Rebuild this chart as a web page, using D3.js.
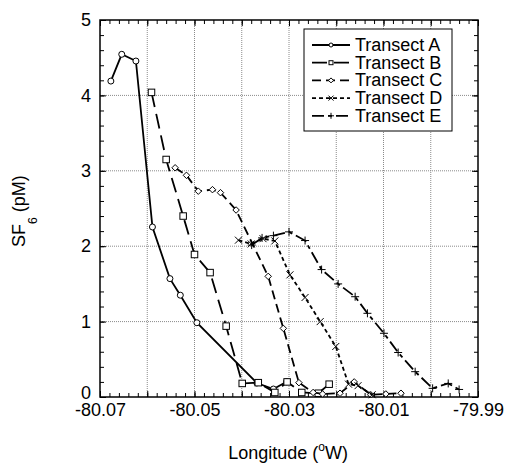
<!DOCTYPE html>
<head>
<meta charset="utf-8">
<title>SF6 transects</title>
<script src="https://d3js.org/d3.v7.min.js"></script>
<style>
  body { margin: 0; background: #fff; }
  text { font-family: "Liberation Sans", Arial, sans-serif; fill: #000; }
</style>
</head>
<body>
<div id="chart"></div>
<script>

  // longitude (deg) and SF6 (pM)
  var lonA = [-80.0677, -80.0654, -80.0624, -80.0589, -80.0552, -80.0530, -80.0495, -80.0368, -80.0333, -80.0305];
  var sf6A = [4.19, 4.545, 4.456, 2.255, 1.57, 1.35, 0.985, 0.186, 0.106, 0.203];

  var lonB = [-80.0591, -80.0560, -80.0524, -80.0500, -80.0467, -80.0433, -80.0399, -80.0365, -80.0330, -80.0304, -80.0273, -80.0238, -80.0215];
  var sf6B = [4.04, 3.15, 2.40, 1.89, 1.65, 0.94, 0.18, 0.19, 0.06, 0.20, 0.06, 0.05, 0.17];

  var lonC = [-80.0541, -80.0517, -80.0492, -80.0462, -80.0445, -80.0412, -80.0344, -80.0312, -80.0279, -80.0249, -80.0229, -80.0192, -80.0162, -80.0127, -80.0095, -80.0063];
  var sf6C = [3.04, 2.94, 2.73, 2.75, 2.71, 2.48, 1.60, 0.91, 0.19, 0.06, 0.04, 0.05, 0.20, 0.03, 0.04, 0.05];

  var lonD = [-80.0407, -80.0380, -80.0355, -80.0330, -80.0298, -80.0266, -80.0234, -80.0201, -80.0174, -80.0154, -80.0124];
  var sf6D = [2.08, 2.03, 2.10, 2.07, 1.62, 1.32, 1.00, 0.67, 0.17, 0.15, 0.03];

  var lonE = [-80.0379, -80.0357, -80.0333, -80.0300, -80.0266, -80.0231, -80.0196, -80.0160, -80.0134, -80.0099, -80.0069, -80.0033, -79.9996, -79.9963, -79.9940];
  var sf6E = [2.015, 2.11, 2.14, 2.19, 2.075, 1.69, 1.50, 1.33, 1.11, 0.845, 0.59, 0.336, 0.115, 0.18, 0.10];

  var seriesNames = ["Transect A", "Transect B", "Transect C", "Transect D", "Transect E"];

  var xMajor = [-80.07, -80.06, -80.05, -80.04, -80.03, -80.02, -80.01, -80.00, -79.99];
  var xLabels = ["-80.07", "", "-80.05", "", "-80.03", "", "-80.01", "", "-79.99"];
  var yMajor = [0, 1, 2, 3, 4, 5];
  var yLabels = ["0", "1", "2", "3", "4", "5"];

  var W = 507, H = 464;
  var margin = {top: 20, right: 29, bottom: 67, left: 100};
  var pL = margin.left, pR = W - margin.right,
      pT = margin.top, pB = H - margin.bottom;

  var svg = d3.select("#chart")
    .append("svg")
      .attr("width", W)
      .attr("height", H);

  var x = d3.scaleLinear().domain([-80.07, -79.99]).range([pL, pR]);
  var y = d3.scaleLinear().domain([0, 5]).range([pB, pT]);

  // grid
  svg.append("g")
    .selectAll("line")
    .data(xMajor.slice(1, -1))
    .enter().append("line")
      .attr("x1", d => x(d)).attr("x2", d => x(d))
      .attr("y1", pT).attr("y2", pB)
      .style("stroke", "#8a8a8a")
      .style("stroke-width", 1)
      .style("stroke-dasharray", "1,1");
  svg.append("g")
    .selectAll("line")
    .data(yMajor.slice(1, -1))
    .enter().append("line")
      .attr("x1", pL).attr("x2", pR)
      .attr("y1", d => y(d)).attr("y2", d => y(d))
      .style("stroke", "#8a8a8a")
      .style("stroke-width", 1)
      .style("stroke-dasharray", "1,1");

  // minor ticks (inward, all four sides)
  var xMinor = d3.range(0, 41).map(i => -80.07 + i * 0.002);
  var yMinor = d3.range(0, 26).map(i => i * 0.2);

  function styleAxis(g) {
    g.select(".domain").remove();
    g.selectAll("line").style("stroke", "#000").style("stroke-width", 1);
    g.selectAll("text")
      .style("font-size", "18px")
      .style("font-family", "'Liberation Sans', Arial, sans-serif")
      .style("fill", "#000");
  }

  svg.append("g")
    .attr("transform", "translate(0," + pB + ")")
    .call(d3.axisBottom(x).tickValues(xMinor).tickSize(-4).tickFormat(""))
    .call(styleAxis);
  svg.append("g")
    .attr("transform", "translate(0," + pT + ")")
    .call(d3.axisTop(x).tickValues(xMinor).tickSize(-4).tickFormat(""))
    .call(styleAxis);
  svg.append("g")
    .attr("transform", "translate(" + pL + ",0)")
    .call(d3.axisLeft(y).tickValues(yMinor).tickSize(-4).tickFormat(""))
    .call(styleAxis);
  svg.append("g")
    .attr("transform", "translate(" + pR + ",0)")
    .call(d3.axisRight(y).tickValues(yMinor).tickSize(-4).tickFormat(""))
    .call(styleAxis);

  // major ticks + labels
  svg.append("g")
    .attr("transform", "translate(0," + pB + ")")
    .call(d3.axisBottom(x).tickValues(xMajor).tickSize(-6).tickPadding(6)
      .tickFormat((d, i) => xLabels[i]))
    .call(styleAxis);
  svg.append("g")
    .attr("transform", "translate(0," + pT + ")")
    .call(d3.axisTop(x).tickValues(xMajor).tickSize(-6).tickFormat(""))
    .call(styleAxis);
  var yAx = svg.append("g")
    .attr("transform", "translate(" + pL + ",0)")
    .call(d3.axisLeft(y).tickValues(yMajor).tickSize(-6).tickPadding(9)
      .tickFormat((d, i) => yLabels[i]))
    .call(styleAxis);
  // the "0" label sits a little above its tick, clear of the x labels
  yAx.selectAll(".tick text").filter(d => d === 0).attr("y", -4);
  svg.append("g")
    .attr("transform", "translate(" + pR + ",0)")
    .call(d3.axisRight(y).tickValues(yMajor).tickSize(-6).tickFormat(""))
    .call(styleAxis);

  // frame
  svg.append("rect")
    .attr("x", pL).attr("y", pT)
    .attr("width", pR - pL).attr("height", pB - pT)
    .style("fill", "none")
    .style("stroke", "#000")
    .style("stroke-width", 1.5);

  // markers
  function marker(g, type, cx, cy, s) {
    if (type === "circle") {
      g.append("circle").attr("cx", cx).attr("cy", cy).attr("r", s / 2)
        .style("fill", "#fff").style("stroke", "#000").style("stroke-width", 1);
    } else if (type === "square") {
      g.append("rect").attr("x", cx - s / 2).attr("y", cy - s / 2)
        .attr("width", s).attr("height", s)
        .style("fill", "#fff").style("stroke", "#000").style("stroke-width", 1);
    } else if (type === "diamond") {
      var h = s / 2;
      g.append("path")
        .attr("d", "M" + cx + "," + (cy - h) + "L" + (cx + h) + "," + cy + "L" + cx + "," + (cy + h) + "L" + (cx - h) + "," + cy + "Z")
        .style("fill", "#fff").style("stroke", "#000").style("stroke-width", 1);
    } else if (type === "x") {
      var k = s / 2;
      g.append("path")
        .attr("d", "M" + (cx - k) + "," + (cy - k) + "L" + (cx + k) + "," + (cy + k) +
                   "M" + (cx - k) + "," + (cy + k) + "L" + (cx + k) + "," + (cy - k))
        .style("stroke", "#000").style("stroke-width", 1);
    } else {
      var p = s / 2;
      g.append("path")
        .attr("d", "M" + (cx - p) + "," + cy + "L" + (cx + p) + "," + cy +
                   "M" + cx + "," + (cy - p) + "L" + cx + "," + (cy + p))
        .style("stroke", "#000").style("stroke-width", 1);
    }
  }

  var series = [
    {lon: lonA, val: sf6A, dash: null, mark: "circle", size: 6, lsize: 4},
    {lon: lonB, val: sf6B, dash: "15,7", mark: "square", size: 6.5, lsize: 4},
    {lon: lonC, val: sf6C, dash: "9,5", mark: "diamond", size: 6.5, lsize: 5},
    {lon: lonD, val: sf6D, dash: "4,3", mark: "x", size: 7, lsize: 5},
    {lon: lonE, val: sf6E, dash: "12,4,4,4", mark: "plus", size: 8, lsize: 6}
  ];

  var line = d3.line().x(d => x(d[0])).y(d => y(d[1]));

  series.forEach(function(s) {
    var pts = s.lon.map((d, i) => [d, s.val[i]]);
    svg.append("path")
      .datum(pts)
      .attr("d", line)
      .style("fill", "none")
      .style("stroke", "#000")
      .style("stroke-width", 1.8)
      .style("stroke-dasharray", s.dash);
    var g = svg.append("g");
    pts.forEach(function(p) { marker(g, s.mark, x(p[0]), y(p[1]), s.size); });
  });

  // legend
  var leg = svg.append("g");
  leg.append("rect")
    .attr("x", 304).attr("y", 29)
    .attr("width", 148).attr("height", 102)
    .style("fill", "#fff")
    .style("stroke", "#000")
    .style("stroke-width", 1);
  series.forEach(function(s, i) {
    var base = 51 + i * 17.7;
    var ly = base - 6;
    leg.append("line")
      .attr("x1", 312).attr("x2", 350)
      .attr("y1", ly).attr("y2", ly)
      .style("stroke", "#000")
      .style("stroke-width", 1.8)
      .style("stroke-dasharray", s.dash);
    marker(leg, s.mark, 331, ly, s.lsize);
    leg.append("text")
      .attr("x", 355).attr("y", base)
      .style("font-size", "18px")
      .style("fill", "#000")
      .text(seriesNames[i]);
  });

  // axis titles
  var xt = svg.append("text")
    .attr("x", 288).attr("y", 459)
    .style("text-anchor", "middle")
    .style("font-size", "18px")
    .style("fill", "#000");
  xt.append("tspan").text("Longitude (");
  xt.append("tspan").attr("dy", -8).style("font-size", "12px").text("o");
  xt.append("tspan").attr("dy", 8).text("W)");

  var yt = svg.append("text")
    .attr("transform", "translate(25,247) rotate(-90)")
    .attr("x", 0).attr("y", 0)
    .style("text-anchor", "start")
    .style("font-size", "18px")
    .style("fill", "#000");
  yt.append("tspan").text("SF");
  yt.append("tspan").attr("dy", 12).style("font-size", "12px").text("6");
  yt.append("tspan").attr("dy", -12).text(" (pM)");

</script>
</body>
